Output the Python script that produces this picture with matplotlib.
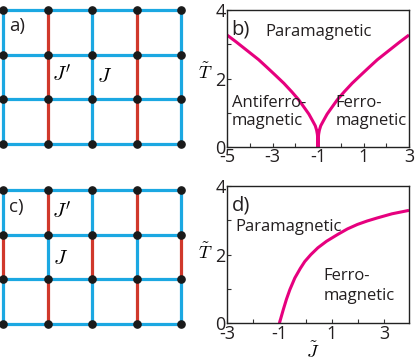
import numpy as np
import matplotlib
matplotlib.use("Agg")
import matplotlib.pyplot as plt

plt.rcParams['mathtext.fontset'] = 'cm'
plt.rcParams['font.family'] = ['Open Sans', 'DejaVu Sans']
plt.rcParams['axes.unicode_minus'] = False

# ---- data ----
# panel b: phase boundary (J~, T~), symmetric around J~ = -1
b_J = [-5.0, -4.6, -4.2, -3.61, -3.25, -2.88, -2.5, -2.15, -1.85, -1.57, -1.4, -1.25, -1.12,
       -1.06, -1.03, -1.01, -1.005, -1.0,
       -0.995, -0.99, -0.97, -0.94, -0.88, -0.75, -0.6, -0.43, -0.15, 0.15, 0.5, 0.88, 1.25, 1.61, 2.2, 2.6, 3.0]
b_T = [3.27, 3.07, 2.86, 2.55, 2.33, 2.10, 1.86, 1.61, 1.38, 1.12, 0.96, 0.78, 0.62,
       0.49, 0.38, 0.25, 0.15, 0.0,
       0.15, 0.25, 0.38, 0.49, 0.62, 0.78, 0.96, 1.12, 1.38, 1.61, 1.86, 2.10, 2.33, 2.55, 2.86, 3.07, 3.27]
# panel d
d_J = [-1.0, -0.85, -0.73, -0.6, -0.41, -0.2, -0.03, 0.2, 0.47, 0.8, 1.23, 1.6, 1.98, 2.35, 2.74, 3.3, 3.95]
d_T = [0.0, 0.40, 0.70, 0.98, 1.32, 1.60, 1.80, 2.00, 2.20, 2.39, 2.59, 2.75, 2.88, 2.98, 3.07, 3.19, 3.29]

x_ticks = {'b': [-5, -3, -1, 1, 3], 'd': [-3, -1, 1, 3]}
y_ticks = [0, 2, 4]

# lattice couplings: red (J') vertical bonds, per row (bottom->top) list of column indices
a_red = {0: [1, 3], 1: [1, 3], 2: [1, 3]}
c_red = {0: [1, 3], 1: [0, 2, 4], 2: [1, 3]}

BLUE = '#1BA8E2'
RED = '#D0382B'
MAG = '#E6007E'
TXT = '#231F20'

W, H = 415, 361
fig = plt.figure(figsize=(W/100, H/100), dpi=100)

def px_axes(l, t, r, b):
    return fig.add_axes([l/W, 1-b/H, (r-l)/W, (b-t)/H])

def lattice(ax, red, label, jp_pos, j_pos):
    nx, ny = 5, 4
    for j in range(ny):
        ax.plot([0, nx-1], [j, j], color=BLUE, lw=2.3, solid_capstyle='butt', zorder=1)
    for j in range(ny-1):
        for i in range(nx):
            c = RED if i in red[j] else BLUE
            ax.plot([i, i], [j, j+1], color=c, lw=2.3, solid_capstyle='butt', zorder=2)
    xs, ys = np.meshgrid(range(nx), range(ny))
    ax.plot(xs.ravel(), ys.ravel(), 'o', color='#1a1a1a', ms=5.2, zorder=3)
    ax.set_xlim(0, nx-1)
    ax.set_ylim(0, ny-1)
    ax.axis('off')
    for a in ax.lines:
        a.set_clip_on(False)
    ax.text(0.13, label[1], label[0], fontsize=13.5, va='center', ha='left', color=TXT)
    ax.text(jp_pos[0], jp_pos[1], r"$J'$", fontsize=15, va='center', ha='left')
    ax.text(j_pos[0], j_pos[1], r"$J$", fontsize=15, va='center', ha='left')

axa = px_axes(3, 10, 181, 144)
lattice(axa, a_red, ('a)', 2.64), (1.1, 1.52), (2.11, 1.52))
axc = px_axes(3, 190, 181, 324)
lattice(axc, c_red, ('c)', 2.61), (1.1, 2.49), (1.12, 1.47))

def phase(ax, J, T, xt, xlim):
    ax.plot(J, T, color=MAG, lw=2.2, solid_capstyle='butt')
    ax.set_xlim(*xlim)
    ax.set_ylim(0, 4)
    ax.set_xticks(xt)
    ax.set_xticks(range(int(np.ceil(xlim[0])), int(np.floor(xlim[1]))+1), minor=True)
    ax.set_yticks(y_ticks)
    ax.set_yticks([1, 3], minor=True)
    ax.tick_params(which='both', direction='in', length=3, width=0.8, labelsize=13, pad=1.0,
                   color='#333333', labelcolor=TXT)
    ax.tick_params(which='minor', labelsize=0)
    for s in ax.spines.values():
        s.set_linewidth(1.0)
        s.set_color('#222222')

axb = px_axes(227, 10, 409, 147)
phase(axb, b_J, b_T, x_ticks['b'], (-5, 3))
axb.text(0.025, 0.855, 'b)', transform=axb.transAxes, fontsize=14.5, va='center', color=TXT)
axb.text(0.21, 0.84, 'Paramagnetic', transform=axb.transAxes, fontsize=12, va='center', ha='left', color=TXT)
axb.text(0.025, 0.255, 'Antiferro-\nmagnetic', transform=axb.transAxes, fontsize=12, va='center', ha='left',
         linespacing=1.15, color=TXT)
axb.text(0.595, 0.255, 'Ferro-\nmagnetic', transform=axb.transAxes, fontsize=12, va='center', ha='left',
         linespacing=1.15, color=TXT)
fig.text(205/W, 1-73/H, r'$\tilde{T}$', fontsize=13, ha='center', va='center')

axd = px_axes(227, 186, 409, 323.3)
phase(axd, d_J, d_T, x_ticks['d'], (-3, 3.95))
axd.text(0.025, 0.855, 'd)', transform=axd.transAxes, fontsize=14.5, va='center', color=TXT)
axd.text(0.045, 0.705, 'Paramagnetic', transform=axd.transAxes, fontsize=12, va='center', ha='left', color=TXT)
axd.text(0.53, 0.27, 'Ferro-\nmagnetic', transform=axd.transAxes, fontsize=12, va='center', ha='left',
         linespacing=1.3, color=TXT)
fig.text(205/W, 1-253/H, r'$\tilde{T}$', fontsize=13, ha='center', va='center')
fig.text(313/W, 1-352/H, r'$\tilde{J}$', fontsize=13, ha='center', va='center')

fig.savefig('out.png', dpi=100)
